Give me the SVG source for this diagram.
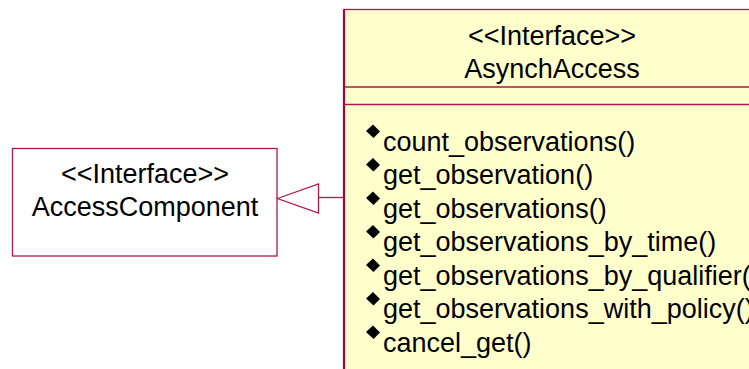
<svg xmlns="http://www.w3.org/2000/svg" width="749" height="369" viewBox="0 0 749 369">
  <style>
    .box { stroke: #B0174A; stroke-width: 1.3; }
    .t { font-family: "Liberation Sans", Arial, sans-serif; font-size: 27px; fill: #000; }
    .c { text-anchor: middle; }
    .line { stroke: #B0174A; stroke-width: 1.3; fill: none; }
  </style>
  <defs>
    <path id="bullet" d="M-7,0 L0,-6.5 L7,0.5 L0.5,7 Z" fill="#000"/>
  </defs>
  <rect width="749" height="369" fill="#fff"/>
  <g id="AccessComponent">
    <rect class="box" x="12.5" y="148.5" width="264.5" height="107.5" fill="#fff"/>
    <text class="t c" x="145" y="182.5">&lt;&lt;Interface&gt;&gt;</text>
    <text class="t c" x="145" y="216">AccessComponent</text>
  </g>
  <g id="AsynchAccess">
    <rect class="box" x="344" y="9.5" width="420" height="380" fill="#FFFFCC"/>
    <line x1="344" y1="9.5" x2="344" y2="369" stroke="#A8003A" stroke-width="2.2"/>
    <line class="line" x1="344" y1="87" x2="749" y2="87"/>
    <line class="line" x1="344" y1="104.5" x2="749" y2="104.5"/>
    <text class="t c" x="552" y="45">&lt;&lt;Interface&gt;&gt;</text>
    <text class="t c" x="552" y="77.5">AsynchAccess</text>
    <g>
      <use href="#bullet" x="373" y="131"/>
      <use href="#bullet" x="373" y="164.5"/>
      <use href="#bullet" x="373" y="198"/>
      <use href="#bullet" x="373" y="231.5"/>
      <use href="#bullet" x="373" y="265"/>
      <use href="#bullet" x="373" y="298.5"/>
      <use href="#bullet" x="373" y="332"/>
    </g>
    <text class="t" x="383" y="150.5">count_observations()</text>
    <text class="t" x="383" y="184">get_observation()</text>
    <text class="t" x="383" y="217.5">get_observations()</text>
    <text class="t" x="383" y="251">get_observations_by_time()</text>
    <text class="t" x="383" y="284.5">get_observations_by_qualifier()</text>
    <text class="t" x="383" y="318">get_observations_with_policy()</text>
    <text class="t" x="383" y="351.5">cancel_get()</text>
  </g>
  <g id="connectors">
    <line class="line" x1="318.5" y1="197.5" x2="343" y2="197.5"/>
    <polygon class="line" points="277.5,198.5 318.5,184 318.5,213"/>
  </g>
</svg>
